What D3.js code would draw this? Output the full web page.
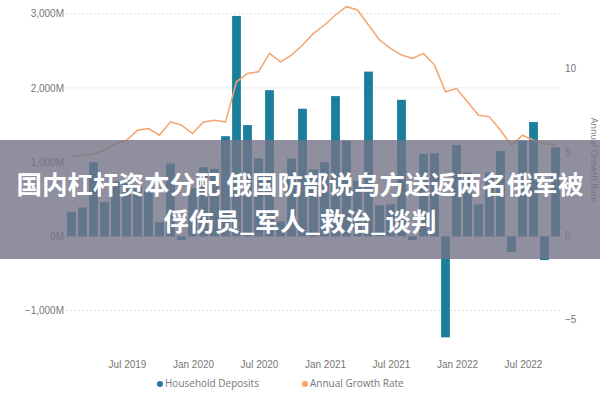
<!DOCTYPE html>
<html>
<head>
<meta charset="utf-8">
<script src="https://cdn.jsdelivr.net/npm/d3@7"></script>
<style>
  body { margin: 0; background: #fff; }
  svg { font-family: "Open Sans", "Noto Sans", sans-serif; }
</style>
</head>
<body>
<div id="chart"></div>
<script>
// data (monthly, Feb 2019 - Oct 2022)
var months = d3.timeMonth.range(new Date(2019, 1, 1), new Date(2022, 10, 1));
var deposits = [330, 390, 1000, 460, 740, 750, 660, 640, 190, 980,
                -50, 650, 930, 910, 1350, 2970, 1500, 1050, 1970, 200,
                1050, 1720, 900, 1000, 1890, 1290, 750, 2220, 420, 430,
                1840, -50, 1110, 1120, -1360, 1230, 860, 430, 860, 1150,
                -210, 1290, 1540, -320, 1200];
var growth = [4.7, 4.8, 4.9, 5.1, 5.5, 5.7, 6.3, 6.4, 6.0, 6.8,
              6.6, 6.1, 6.8, 6.9, 6.8, 9.2, 9.7, 9.8, 10.9, 10.4,
              10.8, 11.4, 12.1, 12.6, 13.2, 13.7, 13.5, 12.6, 11.7, 11.2,
              10.8, 10.6, 10.9, 10.2, 8.6, 8.8, 8.0, 7.2, 7.1, 6.3,
              5.4, 6.0, 5.7, 5.5, 5.4];
var leftTicks = [-1000, 0, 1000, 2000, 3000];
var rightTicks = [-5, 0, 5, 10];
var seriesNames = ["Household Deposits", "Annual Growth Rate"];
var titleLines = ["国内杠杆资本分配 俄国防部说乌方送返两名俄军被", "俘伤员_军人_救治_谈判"];

// sizes
var W = 600, H = 400;
var plot = {left: 66, right: 561, top: 10, bottom: 344};
var barColor = "#1b7f9c", lineColor = "#f4a46c", textColor = "#777";

var svg = d3.select("#chart").append("svg").attr("width", W).attr("height", H);

var x = d3.scaleBand().domain(months).range([plot.left, plot.right]).paddingInner(0.2).paddingOuter(0.1);
var yL = d3.scaleLinear().domain([-1450, 3050]).range([plot.bottom, plot.top]);
var yR = d3.scaleLinear().domain([-6.5, 13.5]).range([plot.bottom, plot.top]);

// gridlines
svg.append("g").selectAll("line").data(leftTicks).enter().append("line")
    .attr("x1", plot.left).attr("x2", plot.right)
    .attr("y1", function(d){ return yL(d); }).attr("y2", function(d){ return yL(d); })
    .attr("stroke", "#ddd").attr("stroke-dasharray", "2,2");

// left axis
var axL = svg.append("g").attr("transform", "translate(" + plot.left + ",0)")
    .call(d3.axisLeft(yL).tickValues(leftTicks).tickSize(0).tickPadding(2)
        .tickFormat(function(d){ return d3.format(",")(d) + "M"; }));
axL.select(".domain").remove();
axL.selectAll("text").attr("fill", textColor).style("font-size", "10px");

// right axis
var axR = svg.append("g").attr("transform", "translate(" + (plot.right - 2) + ",0)")
    .call(d3.axisRight(yR).tickValues(rightTicks).tickSize(0).tickPadding(6));
axR.select(".domain").remove();
axR.selectAll("text").attr("fill", textColor).style("font-size", "10px");

// x axis
var axX = svg.append("g").attr("transform", "translate(1," + (plot.bottom + 14) + ")")
    .call(d3.axisBottom(x).tickSize(0)
        .tickValues(months.filter(function(m){ return m.getMonth() === 0 || m.getMonth() === 6; }))
        .tickFormat(d3.timeFormat("%b %Y")));
axX.select(".domain").remove();
axX.selectAll("text").attr("fill", textColor).style("font-size", "10px");

// bars
svg.append("g").selectAll("rect").data(deposits).enter().append("rect")
    .attr("x", function(d, i){ return x(months[i]); })
    .attr("width", x.bandwidth())
    .attr("y", function(d){ return yL(Math.max(0, d)); })
    .attr("height", function(d){ return Math.abs(yL(d) - yL(0)); })
    .attr("fill", barColor);

// line
var line = d3.line()
    .x(function(d, i){ return x(months[i]) + x.bandwidth() / 2; })
    .y(function(d){ return yR(d); });
svg.append("path").datum(growth).attr("d", line)
    .attr("fill", "none").attr("stroke", lineColor).attr("stroke-width", 1.5);

// right axis title
svg.append("text").attr("transform", "translate(591,160) rotate(90)")
    .attr("text-anchor", "middle").attr("fill", textColor).style("font-size", "9px")
    .text(seriesNames[1]);

// legend
var leg = svg.append("g").attr("transform", "translate(0,387)");
var legX = [160, 305];
seriesNames.forEach(function(name, i){
    leg.append("circle").attr("cx", legX[i]).attr("cy", -3).attr("r", 3)
        .attr("fill", i === 0 ? barColor : lineColor);
    leg.append("text").attr("x", legX[i] + 5).attr("y", 0).attr("fill", textColor)
        .style("font-size", "10px").text(name);
});

// overlay banner
svg.append("rect").attr("x", 0).attr("y", 140).attr("width", W).attr("height", 119)
    .attr("fill", "rgb(115,115,135)").attr("opacity", 0.8);
svg.append("g").selectAll("text").data(titleLines).enter().append("text")
    .attr("x", W / 2).attr("y", function(d, i){ return 194 + i * 37; })
    .attr("text-anchor", "middle").attr("fill", "#fff")
    .style("font-family", "'Noto Sans CJK SC', sans-serif")
    .style("font-weight", "bold").style("font-size", "25.5px")
    .text(function(d){ return d; });
</script>
</body>
</html>
